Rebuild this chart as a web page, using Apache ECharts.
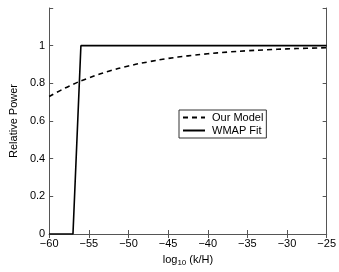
<!DOCTYPE html>
<html><head><meta charset="utf-8">
<script src="https://cdn.jsdelivr.net/npm/echarts@6/dist/echarts.min.js"></script>
<style>html,body{margin:0;padding:0;background:#fff}#c{width:339px;height:272px}</style>
</head><body><div id="c"></div>
<script>
const modelX = [-60,-57.5,-55,-52.5,-50,-47.5,-45,-42.5,-40,-37.5,-35,-32.5,-30,-27.5,-25];
const modelY = [0.730,0.785,0.829,0.864,0.892,0.914,0.932,0.946,0.957,0.966,0.973,0.978,0.983,0.986,0.989];
const wmapX = [-60,-57,-56,-25];
const wmapY = [0,0,1,1];
const xTicks = [-60,-55,-50,-45,-40,-35,-30,-25];
const yTicks = [0,0.2,0.4,0.6,0.8,1];

const font = 'Liberation Sans, Arial, sans-serif';
const axisCol = '#555';
const chart = echarts.init(document.getElementById('c'));
const fmtX = v => String(v).replace('-', '\u2212');
const fmtY = v => v > 1.05 ? '' : String(+v.toFixed(1));
const common = {
  axisLine:{show:true,lineStyle:{color:axisCol,width:1}},
  axisTick:{show:true,inside:true,length:4,lineStyle:{color:axisCol}},
  splitLine:{show:false}
};
chart.setOption({
  animation:false,
  grid:{left:37,right:9,top:8,bottom:33,containLabel:false},
  legend:{
    orient:'vertical',left:179,top:110,
    data:['Our Model','WMAP Fit'],
    borderColor:'#333',borderWidth:1,padding:[2,3,2,3],
    itemGap:2,itemWidth:22,itemHeight:10,
    itemStyle:{opacity:0},
    textStyle:{fontFamily:font,fontSize:11,color:'#000',padding:[0,0,0,2]},
    backgroundColor:'#fff'
  },
  xAxis:[
    Object.assign({type:'value',min:-60,max:-25,interval:5,position:'bottom',
      axisLabel:{formatter:fmtX,fontFamily:font,fontSize:11,color:'#000',margin:4},
      name:'log{s|10} (k/H)',nameLocation:'middle',nameGap:19,
      nameTextStyle:{fontFamily:font,fontSize:11,color:'#000',rich:{s:{fontFamily:font,fontSize:8,color:'#000',padding:[6,0,0,0]}}}
    },common),
    Object.assign({type:'value',min:-60,max:-25,interval:5,position:'top',axisLabel:{show:false}},common)
  ],
  yAxis:[
    Object.assign({type:'value',min:0,max:1.2,interval:0.2,position:'left',
      axisLabel:{formatter:fmtY,fontFamily:font,fontSize:11,color:'#000',margin:4},
      name:'Relative Power',nameLocation:'middle',nameGap:24,
      nameTextStyle:{fontFamily:font,fontSize:11,color:'#000'}
    },common),
    Object.assign({type:'value',min:0,max:1.2,interval:0.2,position:'right',axisLabel:{show:false}},common)
  ],
  series:[
    {name:'Our Model',type:'line',data:modelX.map((x,i)=>[x,modelY[i]]),smooth:true,showSymbol:false,symbol:'none',
      lineStyle:{color:'#000',width:1.6,type:[5,4]},itemStyle:{color:'#000'}},
    {name:'WMAP Fit',type:'line',data:wmapX.map((x,i)=>[x,wmapY[i]]),showSymbol:false,symbol:'none',
      lineStyle:{color:'#000',width:1.6},itemStyle:{color:'#000'}}
  ]
});
</script></body></html>
